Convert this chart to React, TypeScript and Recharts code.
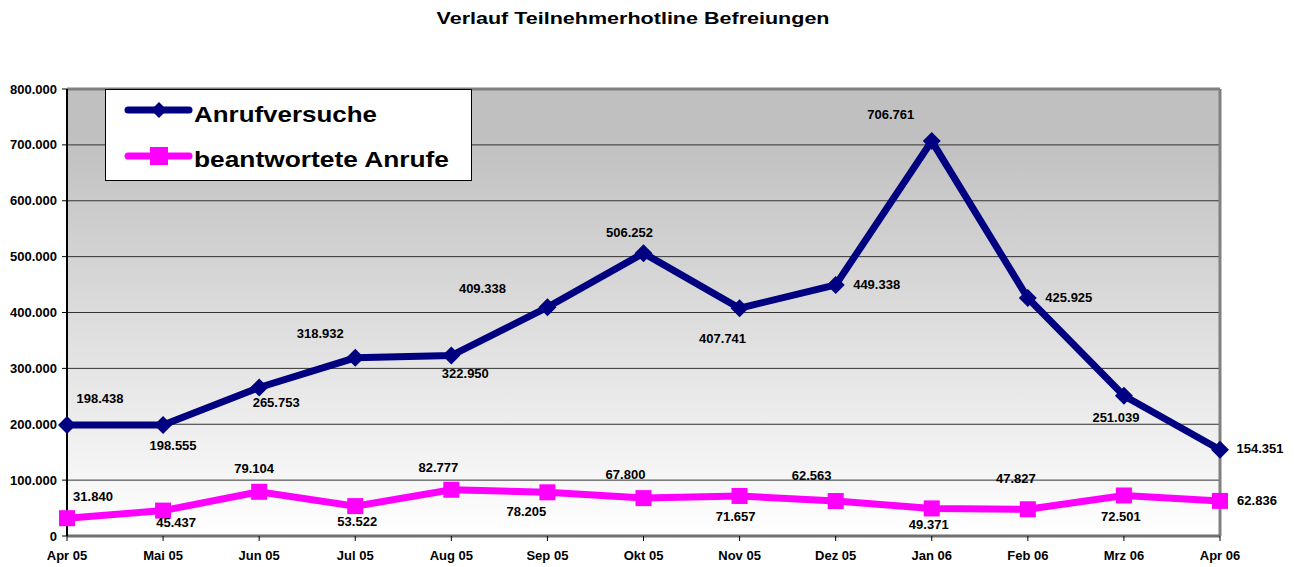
import React from "react";
import {
  LineChart,
  Line,
  XAxis,
  YAxis,
  CartesianGrid,
  ReferenceLine,
} from "recharts";

const months = [
  "Apr 05", "Mai 05", "Jun 05", "Jul 05", "Aug 05", "Sep 05", "Okt 05",
  "Nov 05", "Dez 05", "Jan 06", "Feb 06", "Mrz 06", "Apr 06",
];
const anrufversuche = [
  198438, 198555, 265753, 318932, 322950, 409338, 506252, 407741, 449338, 706761, 425925, 251039, 154351,
];
const beantwortet = [
  31840, 45437, 79104, 53522, 82777, 78205, 67800, 71657, 62563, 49371, 47827, 72501, 62836,
];
const yTicks = [0, 100000, 200000, 300000, 400000, 500000, 600000, 700000, 800000];

// label placement relative to each point (dx, dy in px)
const blueLabelOffsets: [number, number][] = [
  [33, -27], [10, 20], [17, 15], [-35, -24], [14, 18], [-65, -19], [-14, -21],
  [-17, 30], [41, 0], [-41, -27], [41, -1], [-8, 22], [40, -1],
];
const pinkLabelOffsets: [number, number][] = [
  [26, -22], [13, 12], [-5, -23], [2, 15], [-13, -22], [-21, 19], [-18, -24],
  [-4, 21], [-24, -26], [-3, 16], [-12, -31], [-3, 21], [37, 0],
];

const BLUE = "#000080";
const PINK = "#ff00ff";
const FONT = "'Liberation Sans', Arial, sans-serif";

const fmt = (v: number) => String(v).replace(/\B(?=(\d{3})+(?!\d))/g, ".");

const data = months.map((m, i) => ({
  month: m,
  versuche: anrufversuche[i],
  beantwortet: beantwortet[i],
}));

function Diamond({ cx, cy, r = 8 }: { cx: number; cy: number; r?: number }) {
  return (
    <path d={`M${cx},${cy - r}L${cx + r},${cy}L${cx},${cy + r}L${cx - r},${cy}Z`} fill={BLUE} />
  );
}

function Square({ cx, cy, r = 8 }: { cx: number; cy: number; r?: number }) {
  return <rect x={cx - r} y={cy - r} width={r * 2} height={r * 2} fill={PINK} />;
}

const makeLabel = (offsets: [number, number][]) => (props: any) => {
  const { x, y, value, index } = props;
  const [dx, dy] = offsets[index] ?? [0, -15];
  return (
    <text
      key={`l-${index}`}
      x={x + dx}
      y={y + dy}
      textAnchor="middle"
      dominantBaseline="central"
      fontSize={13}
      fontWeight="bold"
      fontFamily={FONT}
      fill="#000"
    >
      {fmt(value)}
    </text>
  );
};

function LegendBox() {
  return (
    <svg width={368} height={93} style={{ position: "absolute", left: 105, top: 89 }}>
      <rect x={0.5} y={0.5} width={366} height={91} fill="#fff" stroke="#000" />
      <line x1={23} y1={21} x2={84} y2={21} stroke={BLUE} strokeWidth={7} strokeLinecap="round" />
      <Diamond cx={54} cy={21} r={8} />
      <text x={89} y={33} fontSize={22} fontWeight="bold" fontFamily={FONT} textLength={183} lengthAdjust="spacingAndGlyphs">
        Anrufversuche
      </text>
      <line x1={23} y1={67} x2={84} y2={67} stroke={PINK} strokeWidth={7} strokeLinecap="round" />
      <Square cx={54} cy={67} r={9} />
      <text x={89} y={78} fontSize={22} fontWeight="bold" fontFamily={FONT} textLength={255} lengthAdjust="spacingAndGlyphs">
        beantwortete Anrufe
      </text>
    </svg>
  );
}

export default function App() {
  const tickStyle = { fontSize: 13, fontWeight: "bold", fontFamily: FONT, fill: "#000" };
  return (
    <div style={{ position: "absolute", left: 0, top: 0, width: 1294, height: 567, background: "#fff" }}>
      <svg width={1294} height={40} style={{ position: "absolute", left: 0, top: 0 }}>
        <text x={633} y={24} textAnchor="middle" fontSize={17} fontWeight="bold" fontFamily={FONT} textLength={393} lengthAdjust="spacingAndGlyphs">
          Verlauf Teilnehmerhotline Befreiungen
        </text>
      </svg>
      <LineChart
        width={1294}
        height={567}
        data={data}
        margin={{ top: 89, right: 74, bottom: 0, left: 0 }}
        style={{ position: "absolute", left: 0, top: 0 }}
      >
        <defs>
          <linearGradient id="plotBg" x1="0" y1="0" x2="0" y2="1">
            <stop offset="0" stopColor="#c0c0c0" />
            <stop offset="0.11" stopColor="#c0c0c0" />
            <stop offset="1" stopColor="#ffffff" />
          </linearGradient>
        </defs>
        <CartesianGrid vertical={false} stroke="#333" fill="url(#plotBg)" fillOpacity={1} />
        <ReferenceLine y={800000} stroke="#808080" strokeWidth={3} />
        <ReferenceLine x="Apr 06" stroke="#808080" strokeWidth={3} />
        <XAxis
          dataKey="month"
          interval={0}
          height={31}
          tickSize={5}
          tickMargin={10}
          tick={tickStyle}
          axisLine={{ stroke: "#707070", strokeWidth: 3 }}
          tickLine={{ stroke: "#000" }}
          padding={{ left: 0, right: 0 }}
        />
        <YAxis
          type="number"
          domain={[0, 800000]}
          ticks={yTicks}
          width={67}
          tickSize={5}
          tickMargin={5}
          tick={tickStyle}
          tickFormatter={(v) => fmt(Number(v))}
          axisLine={{ stroke: "#000", strokeWidth: 2 }}
          tickLine={{ stroke: "#000" }}
        />
        <Line
          dataKey="versuche"
          name="Anrufversuche"
          stroke={BLUE}
          strokeWidth={7}
          isAnimationActive={false}
          dot={(p: any) => <Diamond key={`d-${p.index}`} cx={p.cx} cy={p.cy} r={9} />}
          activeDot={false}
          label={makeLabel(blueLabelOffsets)}
        />
        <Line
          dataKey="beantwortet"
          name="beantwortete Anrufe"
          stroke={PINK}
          strokeWidth={7}
          isAnimationActive={false}
          dot={(p: any) => <Square key={`s-${p.index}`} cx={p.cx} cy={p.cy} r={8} />}
          activeDot={false}
          label={makeLabel(pinkLabelOffsets)}
        />
      </LineChart>
      <LegendBox />
    </div>
  );
}
